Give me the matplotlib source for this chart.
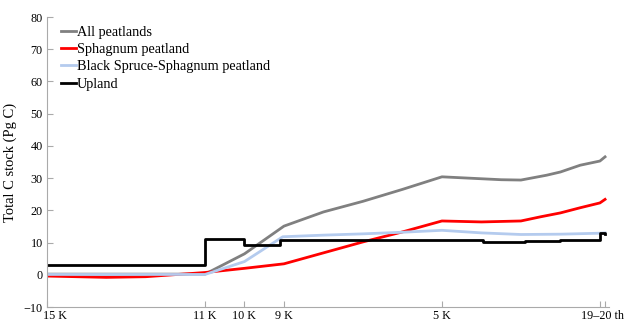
import matplotlib
matplotlib.use("Agg")
import matplotlib.pyplot as plt
import matplotlib.transforms as mtransforms

plt.rcParams['font.family'] = ['Liberation Serif', 'DejaVu Serif']

# ages in kyr BP (axis runs 15 K -> 19-20th century)
all_ka = [15, 11, 10, 9, 8, 7, 6, 5, 4, 3.5, 3, 2.35, 2, 1.5, 1.0, 0.87]
all_val = [0.2, 0.2, 6.5, 15.1, 19.5, 22.8, 26.5, 30.4, 29.8, 29.5, 29.4, 30.9, 31.9, 34.0, 35.3, 36.6]

sph_ka = [15, 13.5, 12.5, 11, 10, 9, 8, 7, 6, 5, 4, 3, 2.5, 2, 1.5, 1.0, 0.87]
sph_val = [-0.4, -0.8, -0.6, 0.7, 2.0, 3.4, 6.8, 10.2, 13.3, 16.7, 16.4, 16.7, 18.0, 19.2, 20.8, 22.3, 23.4]

bss_ka = [15, 11, 10, 9.03, 8, 7, 6, 5, 4, 3, 2, 1.0, 0.87]
bss_val = [0.1, 0.1, 4.1, 11.8, 12.3, 12.7, 13.2, 13.8, 13.0, 12.5, 12.6, 12.9, 13.0]

upl_ka = [15, 11, 10, 9.1, 3.95, 2.9, 2.0, 1.0, 0.87]
upl_val = [3.1, 11.2, 9.1, 10.7, 10.2, 10.5, 10.8, 13.1, 12.8]

tick_ka = [15, 11, 10, 9, 5, 1.0, 0.87]
tick_lab = ['15 K', '11 K', '10 K', '9 K', '5 K', '', '']

fig = plt.figure(figsize=(6.29, 3.23), dpi=100)
ax = fig.add_axes([47/629, 1-307/323, 562/629, 290/323])

ax.plot(all_ka, all_val, color='#808080', lw=2, label='All peatlands')
ax.plot(sph_ka, sph_val, color='#ff0000', lw=2, label='Sphagnum peatland')
ax.plot(bss_ka, bss_val, color='#b4cbee', lw=2, label='Black Spruce-Sphagnum peatland')
ax.plot(upl_ka, upl_val, color='black', lw=2, drawstyle='steps-post', label='Upland')

ax.set_xlim(15, 0.77)
ax.set_ylim(-10, 80)
ax.set_yticks(range(-10, 81, 10))
ax.set_xticks(tick_ka)
ax.set_xticklabels(tick_lab)
ax.set_xticks([0.935], minor=True)
ax.set_xticklabels(['19\u201320 th'], minor=True)

for s in ['top', 'right']:
    ax.spines[s].set_visible(False)
for s in ['left', 'bottom']:
    ax.spines[s].set_color('#aaaaaa')
ax.tick_params(direction='in', length=4, color='#aaaaaa', labelsize=8.7, pad=3)
ax.tick_params(axis='x', pad=2)
ax.tick_params(axis='x', which='minor', length=0, pad=2, labelsize=8.7)

# first x label sits just right of the axis
lbl = ax.get_xticklabels()[0]
lbl.set_horizontalalignment('left')
lbl.set_transform(lbl.get_transform() + mtransforms.ScaledTranslation(-4/100, 0, fig.dpi_scale_trans))

ax.set_ylabel('Total C stock (Pg C)', fontsize=10.5, labelpad=5)

ax.legend(loc='upper left', bbox_to_anchor=(0.01, 1.0), frameon=False, fontsize=10.3,
          handlelength=1.0, handletextpad=0.1, labelspacing=0.3, borderaxespad=0.2)

fig.savefig('out.png', dpi=100)
